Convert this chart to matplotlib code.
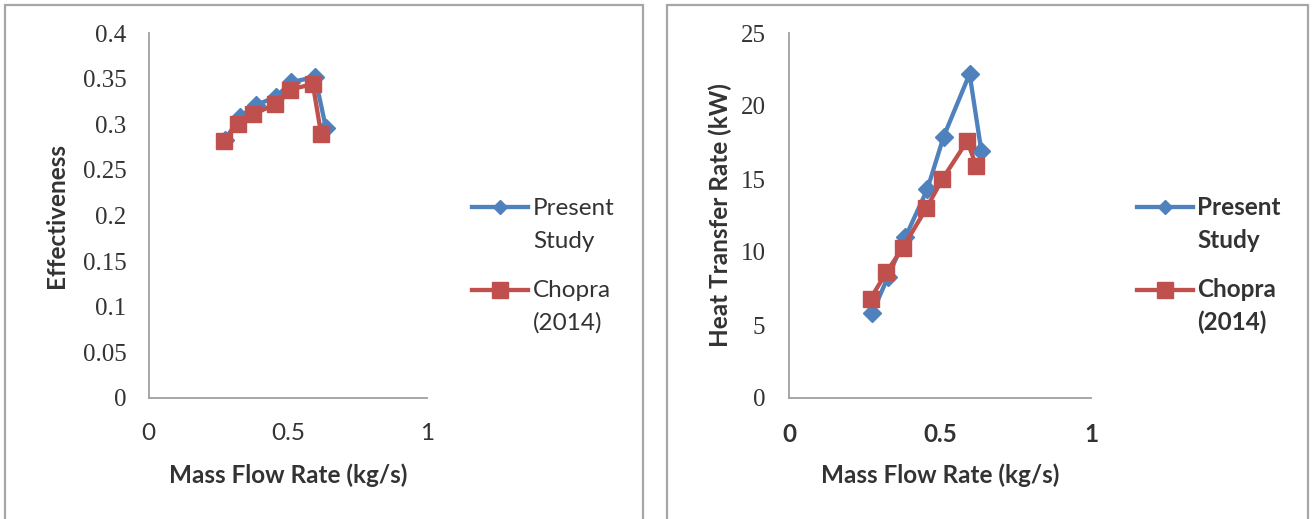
import matplotlib

matplotlib.use("Agg")
import matplotlib.pyplot as plt
from matplotlib.lines import Line2D
from matplotlib.patches import Rectangle

# data
mass_flow_present = [0.275, 0.328, 0.385, 0.458, 0.512, 0.598, 0.637]
mass_flow_chopra = [0.27, 0.322, 0.377, 0.455, 0.508, 0.59, 0.62]

eff_present = [0.283, 0.308, 0.321, 0.330, 0.346, 0.352, 0.296]
eff_chopra = [0.282, 0.300, 0.311, 0.322, 0.338, 0.344, 0.289]

heat_present = [5.8, 8.3, 11.0, 14.3, 17.9, 22.2, 16.9]
heat_chopra = [6.8, 8.6, 10.3, 13.0, 15.0, 17.6, 15.9]

eff_ticks = [0, 0.05, 0.1, 0.15, 0.2, 0.25, 0.3, 0.35, 0.4]
eff_ticklabels = ["0", "0.05", "0.1", "0.15", "0.2", "0.25", "0.3", "0.35", "0.4"]
heat_ticks = [0, 5, 10, 15, 20, 25]
x_ticks = [0, 0.5, 1]
x_ticklabels = ["0", "0.5", "1"]

series_names = [["Present", "Study"], ["Chopra", "(2014)"]]

W, H = 1312, 519
BLUE = "#4F81BD"
RED = "#C0504D"
AXIS_GREY = "#a0a0a0"
TEXT = "#333333"
SANS = "Lato"
SERIF = "Liberation Serif"
FS = 17.5
LW = 3.1
D_MS = 9
S_MS = 12

fig = plt.figure(figsize=(W / 100, H / 100), dpi=100)


def px_box(x0, x1, y_top, y_bot):
    return [x0 / W, 1 - y_bot / H, (x1 - x0) / W, (y_bot - y_top) / H]


# grey frames round each chart
for x0, x1 in [(5, 643), (667, 1308)]:
    fig.patches.append(
        Rectangle(
            (x0 / W, -0.05),
            (x1 - x0) / W,
            1 - 5 / H + 0.05,
            transform=fig.transFigure,
            fill=False,
            edgecolor="#a6a6a6",
            linewidth=1.6,
        )
    )


def style_axes(ax, yticks, yticklabels, ymax, bold_x, ypad):
    ax.set_xlim(0, 1)
    ax.set_ylim(0, ymax)
    for side in ["top", "right"]:
        ax.spines[side].set_visible(False)
    for side in ["left", "bottom"]:
        ax.spines[side].set_color(AXIS_GREY)
        ax.spines[side].set_linewidth(1.3)
    ax.set_yticks(yticks)
    ax.set_yticklabels(yticklabels, fontfamily=SERIF, fontsize=FS + 0.5, color=TEXT)
    ax.set_xticks(x_ticks)
    ax.set_xticklabels(
        x_ticklabels,
        fontfamily=SANS,
        fontsize=FS,
        color=TEXT,
        fontweight="bold" if bold_x else "normal",
    )
    ax.tick_params(axis="both", length=0)
    ax.tick_params(axis="y", pad=ypad)
    ax.tick_params(axis="x", pad=18)
    ax.patch.set_alpha(0)


def draw_key(x0, x1, text_x, bold):
    rows = [(207, 215, 248, BLUE, "D", D_MS - 1.5), (290, 297, 330, RED, "s", S_MS - 1)]
    for (line_y, base1, base2, color, marker, ms), names in zip(rows, series_names):
        yf = 1 - line_y / H
        fig.add_artist(
            Line2D([x0 / W, x1 / W], [yf, yf], color=color, linewidth=LW,
                   transform=fig.transFigure)
        )
        fig.add_artist(
            Line2D([(x0 + x1) / 2 / W], [yf], color=color, marker=marker,
                   markersize=ms, transform=fig.transFigure)
        )
        for base, name in zip([base1, base2], names):
            fig.text(text_x / W, 1 - base / H, name, va="baseline", ha="left",
                     fontfamily=SANS, fontsize=FS, color=TEXT,
                     fontweight="bold" if bold else "normal")


# left chart: effectiveness
ax1 = fig.add_axes(px_box(148.5, 427, 33, 398))
ax1.plot(mass_flow_present, eff_present, color=BLUE, linewidth=LW,
         marker="D", markersize=D_MS, clip_on=False)
ax1.plot(mass_flow_chopra, eff_chopra, color=RED, linewidth=LW,
         marker="s", markersize=S_MS, clip_on=False)
style_axes(ax1, eff_ticks, eff_ticklabels, 0.4, False, 16)
ax1.set_ylabel("Effectiveness", fontfamily=SANS, fontsize=FS, fontweight="bold", color=TEXT)
ax1.set_xlabel("Mass Flow Rate (kg/s)", fontfamily=SANS, fontsize=FS, fontweight="bold", color=TEXT)
ax1.yaxis.set_label_coords(-0.29, 0.5)
ax1.xaxis.set_label_coords(0.5, -0.18)
draw_key(472, 528, 533, False)

# right chart: heat transfer rate
ax2 = fig.add_axes(px_box(789, 1091, 33, 398))
ax2.plot(mass_flow_present, heat_present, color=BLUE, linewidth=LW,
         marker="D", markersize=D_MS, clip_on=False)
ax2.plot(mass_flow_chopra, heat_chopra, color=RED, linewidth=LW,
         marker="s", markersize=S_MS, clip_on=False)
style_axes(ax2, heat_ticks, [str(t) for t in heat_ticks], 25, True, 17)
ax2.set_ylabel("Heat Transfer Rate (kW)", fontfamily=SANS, fontsize=FS, fontweight="bold", color=TEXT)
ax2.set_xlabel("Mass Flow Rate (kg/s)", fontfamily=SANS, fontsize=FS, fontweight="bold", color=TEXT)
ax2.yaxis.set_label_coords(-0.19, 0.5)
ax2.xaxis.set_label_coords(0.5, -0.18)
draw_key(1137, 1193, 1197, True)

plt.savefig("out.png", dpi=100)
plt.close()
